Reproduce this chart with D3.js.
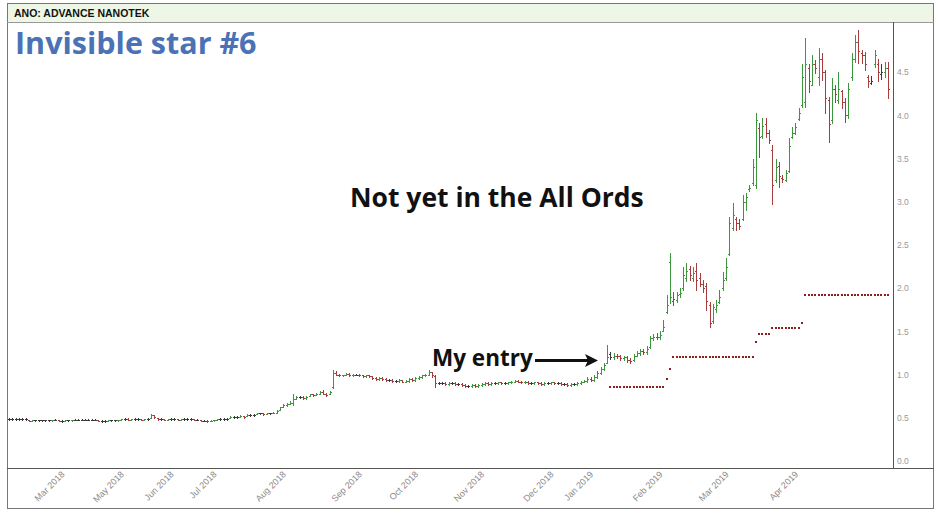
<!DOCTYPE html>
<html><head><meta charset="utf-8">
<script src="https://cdn.jsdelivr.net/npm/d3@7"></script>
<style>body{margin:0;background:#fff;}svg{display:block;}</style>
</head><body><svg id="c" width="938" height="518"></svg>
<script>
// ---- data ----
const openP = [
0.49,0.49,0.49,0.49,0.49,0.49,0.48,0.46,0.47,0.47,
0.47,0.47,0.47,0.47,0.48,0.48,0.46,0.46,0.47,0.47,
0.48,0.48,0.48,0.48,0.48,0.48,0.48,0.47,0.46,0.46,
0.46,0.47,0.47,0.47,0.48,0.49,0.49,0.48,0.49,0.49,
0.49,0.48,0.49,0.50,0.53,0.50,0.49,0.49,0.48,0.49,
0.49,0.49,0.48,0.49,0.49,0.49,0.49,0.48,0.47,0.465,
0.465,0.46,0.47,0.48,0.49,0.49,0.49,0.50,0.51,0.51,
0.51,0.52,0.52,0.53,0.53,0.54,0.55,0.55,0.54,0.55,
0.55,0.56,0.59,0.63,0.65,0.66,0.67,0.72,0.74,0.74,
0.73,0.75,0.77,0.76,0.78,0.80,0.78,0.77,0.86,1.02,
1.00,0.99,1.00,1.01,0.99,1.00,1.00,0.99,0.98,0.99,
0.98,0.96,0.95,0.96,0.95,0.94,0.94,0.93,0.93,0.94,
0.92,0.93,0.95,0.94,0.96,0.97,0.99,1.00,1.03,0.98,
0.90,0.90,0.90,0.89,0.90,0.90,0.89,0.89,0.88,0.87,
0.87,0.88,0.87,0.88,0.89,0.90,0.89,0.90,0.90,0.91,
0.90,0.90,0.91,0.92,0.93,0.92,0.91,0.92,0.90,0.90,
0.91,0.90,0.89,0.90,0.90,0.91,0.90,0.90,0.89,0.89,
0.88,0.89,0.89,0.90,0.92,0.93,0.95,0.94,0.97,1.02,
1.06,1.14,1.24,1.20,1.22,1.21,1.19,1.20,1.17,1.17,
1.22,1.25,1.27,1.26,1.32,1.42,1.44,1.43,1.51,1.72,
2.30,1.85,1.86,1.93,2.00,2.12,2.22,2.12,2.20,2.12,
2.05,2.02,1.80,1.62,1.76,1.84,2.00,2.12,2.40,2.70,
2.80,2.76,2.80,3.00,3.15,3.22,3.20,3.85,3.76,3.90,
3.80,3.60,3.25,3.42,3.28,3.25,3.36,3.75,3.80,3.96,
4.12,4.15,4.55,4.35,4.60,4.45,4.65,4.50,4.18,3.95,
4.30,4.18,4.28,4.15,4.00,4.45,4.65,4.85,4.72,4.70,
4.45,4.38,4.60,4.60,4.48,4.50,4.55];
const highP = [
0.50,0.50,0.50,0.50,0.50,0.50,0.48,0.47,0.48,0.48,
0.48,0.48,0.48,0.48,0.49,0.48,0.47,0.47,0.48,0.48,
0.49,0.49,0.49,0.49,0.49,0.49,0.49,0.47,0.47,0.47,
0.47,0.48,0.48,0.48,0.49,0.50,0.50,0.49,0.50,0.50,
0.49,0.49,0.50,0.54,0.53,0.50,0.50,0.49,0.49,0.50,
0.50,0.49,0.49,0.50,0.50,0.50,0.49,0.49,0.47,0.47,
0.47,0.47,0.48,0.49,0.50,0.50,0.50,0.52,0.52,0.52,
0.53,0.52,0.54,0.54,0.54,0.56,0.56,0.56,0.56,0.56,
0.57,0.59,0.63,0.66,0.67,0.69,0.77,0.75,0.75,0.75,
0.75,0.78,0.78,0.79,0.81,0.82,0.79,0.81,1.05,1.04,
1.01,1.00,1.02,1.02,1.01,1.01,1.01,1.00,1.00,1.00,
0.98,0.97,0.97,0.97,0.96,0.95,0.95,0.94,0.95,0.94,
0.94,0.96,0.96,0.97,0.98,1.00,1.01,1.05,1.03,1.00,
0.91,0.91,0.91,0.91,0.91,0.91,0.90,0.90,0.89,0.88,
0.89,0.89,0.89,0.90,0.91,0.91,0.91,0.91,0.92,0.92,
0.91,0.92,0.93,0.94,0.94,0.93,0.93,0.93,0.91,0.92,
0.92,0.91,0.91,0.91,0.92,0.92,0.91,0.91,0.90,0.90,
0.90,0.90,0.91,0.93,0.94,0.97,0.97,0.99,1.04,1.09,
1.14,1.34,1.26,1.25,1.24,1.23,1.22,1.21,1.19,1.24,
1.27,1.30,1.30,1.33,1.45,1.47,1.48,1.50,1.63,1.92,
2.41,1.96,1.96,2.00,2.25,2.29,2.26,2.24,2.29,2.18,
2.10,2.06,1.84,1.82,1.86,1.98,2.19,2.35,2.82,2.99,
2.82,2.80,3.08,3.10,3.19,3.50,4.03,3.91,3.97,3.97,
3.83,3.66,3.50,3.46,3.31,3.37,3.74,3.87,3.91,4.09,
4.60,4.90,4.60,4.70,4.64,4.78,4.72,4.53,4.21,4.43,
4.35,4.50,4.29,4.20,4.37,4.72,4.93,4.99,4.76,4.73,
4.47,4.46,4.76,4.65,4.60,4.62,4.62];
const lowP = [
0.48,0.48,0.48,0.48,0.48,0.48,0.46,0.46,0.46,0.46,
0.46,0.46,0.46,0.47,0.47,0.46,0.45,0.46,0.46,0.47,
0.47,0.47,0.47,0.47,0.47,0.47,0.47,0.46,0.45,0.45,
0.46,0.46,0.46,0.47,0.48,0.48,0.48,0.48,0.48,0.48,
0.48,0.48,0.48,0.50,0.50,0.48,0.48,0.48,0.48,0.48,
0.48,0.48,0.48,0.48,0.48,0.48,0.48,0.47,0.46,0.46,
0.45,0.46,0.47,0.48,0.48,0.48,0.48,0.50,0.50,0.50,
0.51,0.50,0.52,0.52,0.52,0.54,0.54,0.53,0.54,0.54,
0.55,0.56,0.59,0.63,0.64,0.66,0.65,0.72,0.73,0.72,
0.72,0.75,0.75,0.76,0.77,0.77,0.75,0.77,0.84,0.99,
0.98,0.98,0.99,0.98,0.98,0.99,0.98,0.97,0.97,0.97,
0.95,0.94,0.94,0.94,0.93,0.93,0.92,0.92,0.92,0.91,
0.91,0.92,0.93,0.93,0.95,0.96,0.98,0.99,0.97,0.86,
0.89,0.89,0.88,0.88,0.89,0.88,0.88,0.87,0.86,0.86,
0.86,0.86,0.86,0.87,0.88,0.88,0.88,0.89,0.89,0.89,
0.89,0.89,0.90,0.91,0.91,0.90,0.90,0.89,0.89,0.89,
0.89,0.88,0.88,0.89,0.89,0.89,0.89,0.88,0.88,0.87,
0.87,0.88,0.88,0.89,0.91,0.92,0.93,0.93,0.96,1.01,
1.05,1.13,1.18,1.18,1.19,1.17,1.17,1.15,1.14,1.16,
1.21,1.23,1.24,1.24,1.31,1.40,1.41,1.41,1.50,1.71,
1.83,1.80,1.84,1.90,1.98,2.08,2.10,2.08,1.98,2.02,
1.96,1.75,1.55,1.60,1.72,1.83,1.98,2.10,2.38,2.67,
2.67,2.68,2.79,2.90,3.12,3.19,3.16,3.52,3.74,3.75,
3.68,2.98,3.23,3.17,3.23,3.24,3.34,3.74,3.78,3.95,
4.10,4.10,4.27,4.35,4.49,4.35,4.41,4.03,3.69,3.91,
4.16,4.14,4.09,3.92,3.97,4.41,4.62,4.61,4.61,4.53,
4.33,4.36,4.56,4.40,4.42,4.45,4.20];
const closeP = [
0.49,0.49,0.49,0.49,0.49,0.49,0.46,0.47,0.47,0.47,
0.47,0.47,0.47,0.48,0.48,0.46,0.46,0.47,0.47,0.48,
0.48,0.48,0.48,0.48,0.48,0.48,0.48,0.46,0.46,0.46,
0.47,0.47,0.47,0.48,0.49,0.49,0.48,0.49,0.49,0.49,
0.48,0.49,0.49,0.53,0.51,0.49,0.49,0.48,0.49,0.49,
0.49,0.48,0.49,0.49,0.49,0.49,0.48,0.48,0.465,0.465,
0.46,0.465,0.48,0.49,0.49,0.49,0.49,0.51,0.51,0.51,
0.52,0.51,0.53,0.53,0.53,0.55,0.55,0.54,0.55,0.55,
0.56,0.58,0.62,0.65,0.66,0.67,0.72,0.74,0.74,0.73,
0.74,0.77,0.76,0.78,0.80,0.78,0.76,0.80,1.02,1.00,
0.99,1.00,1.01,0.99,1.00,1.00,0.99,0.98,0.99,0.98,
0.96,0.95,0.96,0.95,0.94,0.94,0.93,0.93,0.94,0.92,
0.93,0.95,0.94,0.96,0.97,0.99,1.00,1.03,0.99,0.90,
0.90,0.90,0.89,0.90,0.90,0.89,0.89,0.88,0.87,0.87,
0.88,0.87,0.88,0.89,0.90,0.89,0.90,0.90,0.91,0.90,
0.90,0.91,0.92,0.93,0.92,0.91,0.92,0.90,0.90,0.91,
0.90,0.89,0.90,0.90,0.91,0.90,0.90,0.89,0.89,0.88,
0.89,0.89,0.90,0.92,0.93,0.95,0.94,0.97,1.02,1.06,
1.11,1.20,1.20,1.22,1.21,1.19,1.20,1.17,1.16,1.22,
1.25,1.27,1.26,1.30,1.42,1.44,1.43,1.46,1.55,1.80,
1.90,1.88,1.92,1.95,2.15,2.20,2.15,2.18,2.10,2.05,
2.00,1.85,1.60,1.78,1.80,1.90,2.10,2.25,2.75,2.85,
2.75,2.72,3.00,3.05,3.16,3.40,3.95,3.75,3.88,3.80,
3.72,3.20,3.40,3.30,3.26,3.33,3.65,3.80,3.87,4.03,
4.45,4.60,4.40,4.60,4.55,4.65,4.50,4.20,3.90,4.30,
4.25,4.30,4.15,4.00,4.30,4.65,4.85,4.75,4.70,4.60,
4.40,4.40,4.70,4.50,4.50,4.55,4.30];

// trailing stop (one value per bar, starting at bar stopStart)
const stopStart = 182;
const stopValues = [
0.86,0.86,0.86,0.86,0.86,0.86,0.86,0.86,0.86,0.86,0.86,0.86,0.86,0.86,0.86,0.86,0.86,
0.95,1.06,
1.20,1.20,1.20,1.20,1.20,1.20,1.20,1.20,1.20,1.20,1.20,1.20,1.20,1.20,1.20,1.20,1.20,1.20,1.20,1.20,1.20,1.20,1.20,1.20,1.20,
1.38,
1.47,1.47,1.47,1.47,
1.54,1.54,1.54,1.54,1.54,1.54,1.54,1.54,1.54,
1.60,
1.92,1.92,1.92,1.92,1.92,1.92,1.92,1.92,1.92,1.92,1.92,1.92,1.92,1.92,1.92,1.92,1.92,1.92,1.92,1.92,1.92,1.92,1.92,1.92,1.92,1.92];

const xTickIndex  = [17, 35, 50, 63, 84, 107, 124, 144, 165, 177, 198, 218, 239];
const xTickLabels = ["Mar 2018","May 2018","Jun 2018","Jul 2018","Aug 2018","Sep 2018","Oct 2018","Nov 2018","Dec 2018","Jan 2019","Feb 2019","Mar 2019","Apr 2019"];
const yTickValues = [0,0.5,1,1.5,2,2.5,3,3.5,4,4.5];

const headerText = "ANO: ADVANCE NANOTEK";
const titleText = "Invisible star #6";
const noteText = "Not yet in the All Ords";
const entryText = "My entry";

// ---- drawing ----
const svg = d3.select("#c");
const N = closeP.length;
const x = d3.scaleLinear().domain([0, N - 1]).range([9, 888]);
const y = d3.scaleLinear().domain([0, 5]).range([461, 29]);
const px = v => Math.round(v) + 0.5;

// header band
svg.append("rect").attr("x", 7.5).attr("y", 3.5).attr("width", 926).attr("height", 19)
  .attr("fill", "#eef7e6").attr("stroke", "none");
svg.append("text").attr("x", 14).attr("y", 17).text(headerText)
  .attr("font-family", "Liberation Sans, Arial, sans-serif").attr("font-weight", "bold")
  .attr("font-size", 10.5).attr("fill", "#111");

// frame lines
const frame = svg.append("g").attr("stroke", "#555").attr("stroke-width", 1).attr("fill", "none");
frame.append("rect").attr("x", 7.5).attr("y", 3.5).attr("width", 926).attr("height", 505).attr("stroke", "#777");
frame.append("line").attr("x1", 7).attr("x2", 934).attr("y1", 22.5).attr("y2", 22.5).attr("stroke", "#999");
frame.append("line").attr("x1", 7).attr("x2", 934).attr("y1", 468.5).attr("y2", 468.5);
frame.append("line").attr("x1", 893.5).attr("x2", 893.5).attr("y1", 22).attr("y2", 468);

// y axis labels
const yAxis = d3.axisRight(y).tickValues(yTickValues).tickFormat(d3.format(".1f")).tickSize(0).tickPadding(4);
const ya = svg.append("g").attr("transform", "translate(893,0)").call(yAxis);
ya.select(".domain").remove();
ya.selectAll("text").attr("font-family", "Liberation Sans, Arial, sans-serif")
  .attr("font-size", 8.5).attr("fill", "#999");

// x axis labels
svg.append("g").selectAll("text").data(xTickIndex).join("text")
  .attr("transform", d => `translate(${x(d)},475) rotate(-45)`)
  .attr("text-anchor", "end")
  .attr("font-family", "Liberation Sans, Arial, sans-serif")
  .attr("font-size", 9).attr("fill", "#8a8a8a")
  .text((d, i) => xTickLabels[i]);

// OHLC bars
const bars = svg.append("g").attr("stroke-width", 1).attr("shape-rendering", "crispEdges");
closeP.forEach((c, i) => {
  const prev = i > 0 ? closeP[i - 1] : c;
  const col = c > prev + 1e-9 ? "#3c963c" : (c < prev - 1e-9 ? "#a83b3b" : "#3a3a3a");
  const xc = px(x(i));
  const yh = Math.round(y(highP[i])), yl = Math.round(y(lowP[i]));
  const g = bars.append("g").attr("stroke", col);
  g.append("line").attr("x1", xc).attr("x2", xc).attr("y1", yh).attr("y2", Math.max(yl, yh + 1) + 0.5);
  g.append("line").attr("x1", xc - 1.5).attr("x2", xc).attr("y1", px(y(openP[i]))).attr("y2", px(y(openP[i])));
  g.append("line").attr("x1", xc).attr("x2", xc + 1.5).attr("y1", px(y(c))).attr("y2", px(y(c)));
});

// stop dots
svg.append("g").selectAll("rect").data(stopValues).join("rect")
  .attr("x", (d, i) => Math.round(x(stopStart + i)) - 1)
  .attr("y", d => Math.round(y(d)) - 1)
  .attr("width", 2).attr("height", 2)
  .attr("fill", "#8e1f1f");

// annotations
svg.append("text").attr("x", 15).attr("y", 54).text(titleText)
  .attr("font-family", "Open Sans, sans-serif").attr("font-weight", "bold")
  .attr("font-size", 30.5).attr("fill", "#4a72b5");
svg.append("text").attr("x", 350).attr("y", 207).text(noteText)
  .attr("font-family", "Open Sans, sans-serif").attr("font-weight", "bold")
  .attr("font-size", 26.5).attr("fill", "#111");
svg.append("text").attr("x", 432).attr("y", 366).text(entryText)
  .attr("font-family", "Open Sans, sans-serif").attr("font-weight", "bold")
  .attr("font-size", 22.5).attr("fill", "#111");
svg.append("line").attr("x1", 535).attr("x2", 588).attr("y1", 360.5).attr("y2", 360.5)
  .attr("stroke", "#111").attr("stroke-width", 3);
svg.append("path").attr("d", "M598,360.5 L585,354 L588,360.5 L585,367 Z").attr("fill", "#111");
</script></body></html>
